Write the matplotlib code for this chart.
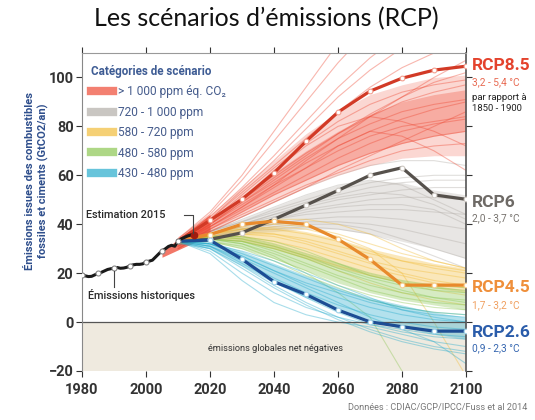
import matplotlib
matplotlib.use('Agg')
import matplotlib.pyplot as plt
from matplotlib.lines import Line2D
import matplotlib.transforms as mtransforms

plt.rcParams['font.family'] = ['Roboto', 'DejaVu Sans']

# ---------------- data ----------------
hist_years = list(range(1980, 2015))
hist_values = [19.4, 18.9, 18.6, 18.7, 19.3, 19.9, 20.3, 20.9, 21.5, 21.8,
               22.0, 22.3, 22.0, 22.1, 22.4, 23.0, 23.4, 23.6, 23.6, 23.8,
               24.6, 24.9, 25.3, 26.6, 27.9, 29.2, 29.9, 30.9, 31.4, 31.0,
               33.1, 34.0, 34.6, 35.2, 35.6]
estimate_year = 2015
estimate_value = 35.5

rcp_years = [2010, 2020, 2030, 2040, 2050, 2060, 2070, 2080, 2090, 2100]
rcp85 = [33.1, 41.6, 50.2, 61.0, 73.9, 85.8, 94.4, 99.7, 103.0, 104.6]
rcp6 = [33.1, 33.8, 36.5, 42.0, 47.8, 53.8, 60.0, 63.1, 52.0, 50.2]
rcp45 = [33.1, 35.8, 40.0, 41.2, 40.0, 33.9, 25.6, 15.1, 15.1, 15.1]
rcp26 = [33.1, 33.5, 25.7, 16.5, 11.3, 4.9, 0.1, -1.9, -3.7, -3.7]

scen_years = [2010, 2020, 2030, 2040, 2050, 2060, 2070, 2080, 2090, 2100]

red_lines = [
    [34, 44, 58, 74, 90, 106, 120, 132, 140, 146],
    [33, 43, 55, 68, 82, 96, 108, 118, 125, 130],
    [33, 42, 53, 64, 75, 86, 96, 104, 110, 114],
    [33, 41, 51, 60, 69, 77, 84, 90, 94, 97],
    [32, 40, 49, 57, 65, 72, 78, 83, 87, 90],
    [32, 40, 48, 56, 63, 70, 76, 80, 82, 84],
    [31, 39, 46, 53, 60, 67, 73, 78, 81, 83],
    [32, 39, 47, 55, 63, 72, 78, 76, 70, 62],
    [31, 38, 45, 52, 58, 64, 69, 73, 76, 78],
    [30, 38, 44, 50, 56, 61, 66, 70, 72, 73],
    [33, 41, 50, 59, 68, 77, 85, 92, 98, 102],
    [30, 37, 43, 49, 55, 62, 68, 74, 80, 86],
    [32, 40, 50, 62, 72, 80, 84, 82, 78, 72],
    [33, 39, 47, 56, 66, 75, 84, 92, 100, 107],
    [34, 45, 60, 78, 96, 114, 130, 140, 150, 155],
    [33, 42, 54, 66, 79, 92, 103, 112, 117, 120],
    [33, 41, 52, 63, 73, 82, 89, 94, 97, 99],
    [32, 40, 49, 58, 67, 75, 81, 86, 89, 91],
]
red_lo = [30, 37, 43, 49, 55, 60, 64, 67, 68, 68]
red_hi = [35, 44, 55, 66, 77, 86, 93, 97, 100, 101]
red_core_lo = [31, 38, 45, 52, 58, 64, 69, 73, 76, 78]
red_core_hi = [34, 42, 51, 61, 70, 78, 85, 90, 93, 95]
fan_years = [2005, 2010, 2015, 2020]
fan_lo = [26.5, 29.5, 32.5, 36.0]
fan_hi = [28.5, 34.0, 39.0, 44.0]

gray_lines = [
    [33, 37, 41, 45, 49, 52, 55, 57, 58, 58],
    [33, 36, 40, 43, 46, 48, 50, 51, 51, 50],
    [33, 36, 39, 42, 44, 45, 46, 46, 45, 44],
    [33, 36, 38, 40, 42, 43, 43, 42, 40, 38],
    [33, 35, 38, 40, 41, 41, 40, 38, 35, 32],
    [33, 37, 42, 47, 52, 56, 58, 56, 50, 44],
    [33, 36, 40, 44, 48, 51, 53, 52, 48, 42],
    [33, 35, 37, 39, 40, 40, 38, 34, 30, 26],
    [33, 36, 39, 42, 45, 47, 48, 48, 46, 40],
    [33, 37, 41, 46, 50, 54, 57, 59, 60, 60],
    [33, 35, 37, 38, 39, 38, 36, 32, 27, 22],
    [33, 36, 40, 44, 47, 50, 52, 54, 55, 55],
    [33, 37, 43, 49, 55, 60, 64, 66, 66, 64],
]
gray_lo = [32, 34, 36, 37, 38, 38, 36, 33, 30, 26]
gray_hi = [34, 38, 42, 47, 52, 56, 58, 57, 54, 52]

yellow_lines = [
    [33, 36, 38, 38, 36, 33, 29, 25, 22, 20],
    [33, 36, 37, 36, 33, 29, 25, 22, 20, 18],
    [33, 35, 36, 35, 32, 28, 24, 20, 17, 15],
    [33, 35, 35, 33, 30, 26, 22, 19, 16, 14],
    [33, 36, 39, 40, 39, 36, 32, 28, 25, 22],
    [33, 35, 34, 31, 27, 23, 19, 16, 13, 11],
    [33, 34, 33, 30, 26, 21, 16, 12, 9, 7],
    [33, 36, 38, 39, 38, 35, 30, 20, 0, -22],
    [33, 35, 36, 36, 34, 31, 28, 25, 23, 21],
    [33, 36, 40, 42, 42, 40, 36, 30, 25, 22],
]
yellow_lo = [32, 34, 33, 30, 26, 22, 19, 16, 14, 12]
yellow_hi = [34, 37, 39, 39, 37, 34, 30, 27, 24, 22]

green_lines = [
    [33, 35, 34, 31, 27, 22, 18, 15, 13, 12],
    [33, 34, 33, 29, 24, 19, 15, 12, 10, 9],
    [33, 34, 32, 28, 23, 18, 13, 10, 8, 7],
    [33, 35, 35, 33, 29, 24, 19, 16, 14, 13],
    [33, 33, 31, 26, 21, 15, 11, 8, 6, 5],
    [33, 34, 32, 27, 20, 12, 2, -20, -30, -30],
    [33, 34, 33, 30, 26, 21, 17, 13, 10, 8],
    [33, 33, 30, 25, 19, 14, 9, 6, 4, 3],
    [33, 35, 35, 32, 28, 24, 20, 17, 15, 14],
]
green_lo = [32, 33, 30, 26, 21, 16, 12, 9, 7, 5]
green_hi = [34, 35, 35, 32, 28, 24, 20, 17, 15, 13]

blue_lines = [
    [33, 32, 27, 21, 15, 10, 6, 3, 1, 0],
    [33, 31, 25, 18, 12, 7, 3, 0, -2, -3],
    [33, 31, 24, 17, 10, 4, -1, -4, -6, -7],
    [33, 32, 28, 23, 18, 13, 9, 6, 4, 3],
    [33, 30, 22, 14, 7, 1, -4, -8, -11, -13],
    [33, 32, 29, 25, 20, 15, 10, 5, 2, 0],
    [33, 30, 23, 15, 8, 2, -3, -7, -10, -12],
    [33, 31, 26, 20, 14, 8, 2, -3, -8, -17],
    [33, 32, 27, 21, 16, 12, 8, 5, 3, 2],
    [33, 29, 20, 12, 6, 2, -1, -3, -5, -6],
    [33, 28, 17, 8, 3, 0, -2, -5, -8, -10],
]
blue_lo = [32, 30, 23, 16, 10, 5, 1, -2, -5, -7]
blue_hi = [33, 33, 29, 24, 19, 14, 10, 7, 4, 2]

legend_labels = ['> 1 000 ppm éq. CO\u2082', '720 - 1 000 ppm', '580 - 720 ppm',
                 '480 - 580 ppm', '430 - 480 ppm']

x_ticks = [1980, 2000, 2020, 2040, 2060, 2080, 2100]
y_ticks = [-20, 0, 20, 40, 60, 80, 100]

# ---------------- figure ----------------
fig = plt.figure(figsize=(5.35, 4.2), dpi=100)
ax = fig.add_axes([82 / 535, 49 / 420, 384 / 535, 318 / 420])
ax.set_xlim(1980, 2100)
ax.set_ylim(-20, 110)

ax.axhspan(-20, 0, color='#efeadf', zorder=0, lw=0)

RED, GRAY, YEL, GRN, BLU = '#ee4a35', '#b3aea8', '#f2bd3a', '#8cc653', '#27abcc'

cats = [
    (gray_lines, gray_lo, gray_hi, GRAY, 0.3),
    (red_lines, red_lo, red_hi, RED, 0.22),
    (yellow_lines, yellow_lo, yellow_hi, YEL, 0.35),
    (green_lines, green_lo, green_hi, GRN, 0.35),
    (blue_lines, blue_lo, blue_hi, BLU, 0.35),
]
for z, (lines, lo, hi, c, a) in enumerate(cats):
    ax.fill_between(scen_years, lo, hi, color=c, alpha=a, lw=0, zorder=1 + z * 0.1)
    for ln in lines:
        ax.plot(scen_years, ln, color=c, alpha=0.4, lw=0.8, zorder=1.05 + z * 0.1)
    if c == RED:
        ax.fill_between(scen_years, red_core_lo, red_core_hi, color=RED, alpha=0.3,
                        lw=0, zorder=1.12)
        ax.fill_between(fan_years, fan_lo, fan_hi, color=RED, alpha=0.75, lw=0,
                        zorder=1.13)

ax.axhline(0, color='#555555', lw=0.9, zorder=2)

# historical
ax.plot(hist_years, hist_values, color='#1a1a1a', lw=2.2, zorder=5,
        marker='o', markevery=5, ms=3.6, mfc='white', mec='#888888', mew=0.8)
ax.plot([estimate_year], [estimate_value], 'o', color='#a01c10', ms=4.5, zorder=6)

rcps = [(rcp85, '#d23a26', '#f4a090'), (rcp6, '#56514c', '#cfcac4'),
        (rcp45, '#e88a2c', '#f7cf8e'), (rcp26, '#1d4d94', '#9fd3ea')]
for vals, c, mc in rcps:
    ax.plot(rcp_years, vals, color=c, lw=2.3, zorder=4)
    ax.plot(rcp_years[1:], vals[1:], 'o', ms=3.4, mfc='white', mec=mc, mew=0.8, zorder=4.5)

# annotations
ax.text(1981.2, 43.7, 'Estimation 2015', fontsize=7.8, color='#2a2a2a', va='center',
        ha='left', fontweight='medium', zorder=7)
ax.plot([2012.0, 2014.7, 2014.7], [43.7, 43.7, 36.6], color='#444444', lw=0.8, zorder=7)
ax.text(1982.0, 11.0, 'Émissions historiques', fontsize=7.8, color='#2a2a2a',
        va='center', ha='left', fontweight='medium', zorder=7)
ax.plot([1990, 1990], [21.0, 14.2], color='#444444', lw=0.8, zorder=7)
ax.text(2040.5, -11, 'émissions globales net négatives', fontsize=6.6, color='#333333',
        ha='center', va='center', zorder=7)

# right labels
tr = mtransforms.blended_transform_factory(ax.transAxes, ax.transData)
xl = 1.016
ax.text(xl, 104.9, 'RCP8.5', transform=tr, fontsize=12.5, fontweight='bold',
        color='#e4432d', va='center', ha='left')
ax.text(xl, 98.0, '3,2 - 5,4 °C', transform=tr, fontsize=7.3, color='#e86a52',
        va='center', ha='left')
ax.text(xl, 92.0, 'par rapport à', transform=tr, fontsize=6.8, color='#222222',
        va='center', ha='left')
ax.text(xl, 87.3, '1850 - 1900', transform=tr, fontsize=6.8, color='#222222',
        va='center', ha='left')
ax.text(xl, 49.0, 'RCP6', transform=tr, fontsize=12.5, fontweight='bold',
        color='#6e6a66', va='center', ha='left')
ax.text(xl, 42.4, '2,0 - 3,7 °C', transform=tr, fontsize=7.3, color='#77736e',
        va='center', ha='left')
ax.text(xl, 14.3, 'RCP4.5', transform=tr, fontsize=12.5, fontweight='bold',
        color='#ef8f3a', va='center', ha='left')
ax.text(xl, 6.9, '1,7 - 3,2 °C', transform=tr, fontsize=7.3, color='#f0a060',
        va='center', ha='left')
ax.text(xl, -4.1, 'RCP2.6', transform=tr, fontsize=12.5, fontweight='bold',
        color='#2a5caa', va='center', ha='left')
ax.text(xl, -10.6, '0,9 - 2,3 °C', transform=tr, fontsize=7.3, color='#3566b0',
        va='center', ha='left')

# axes styling
ax.set_xticks(x_ticks)
ax.set_yticks(y_ticks)
ax.tick_params(axis='both', labelsize=10.5, colors='#333333', width=0.8)
ax.tick_params(axis='x', length=4, pad=5, top=True, direction='out')
ax.tick_params(axis='y', length=4, pad=2, right=True)
for lab in ax.get_xticklabels() + ax.get_yticklabels():
    lab.set_fontweight('bold')
ax.spines['bottom'].set_visible(False)
ax.spines['left'].set_color('#888888')
ax.spines['top'].set_color('#999999')
ax.spines['top'].set_linewidth(0.8)
ax.spines['right'].set_color('#555555')
ax.spines['right'].set_linewidth(1.2)

# legend
leg_colors = [RED, GRAY, YEL, GRN, BLU]
handles = [Line2D([], [], color=c, lw=6, alpha=0.7) for c in leg_colors]
leg = ax.legend(handles, legend_labels, title='Catégories de scénario',
                loc='upper left', bbox_to_anchor=(0.005, 0.985), frameon=False,
                fontsize=8.6, title_fontsize=8.4, handlelength=1.8,
                handletextpad=0.45, labelspacing=0.62, borderaxespad=0.2,
                alignment='left', labelcolor='#465c8c')
leg.get_title().set_color('#3e5c94')
leg.get_title().set_fontweight('bold')
leg.set_zorder(10)

# y label, title, source
fig.text(37 / 535, 1 - 181 / 420,
         'Émissions issues des combustibles\nfossiles et ciments (GtCO2/an)',
         rotation=90, ha='center', va='center', fontsize=8, fontweight='bold',
         color='#2e4e8c', multialignment='center', linespacing=1.25)
fig.text(0.497, 1 - 19 / 420, 'Les scénarios d\u2019émissions (RCP)', ha='center',
         va='center', fontsize=18, family=['Lato', 'DejaVu Sans'], color='#111111')
fig.text(527 / 535, 1 - 408 / 420, 'Données : CDIAC/GCP/IPCC/Fuss et al 2014',
         ha='right', va='center', fontsize=6.6, color='#777777')

fig.savefig('out.png', dpi=100)
